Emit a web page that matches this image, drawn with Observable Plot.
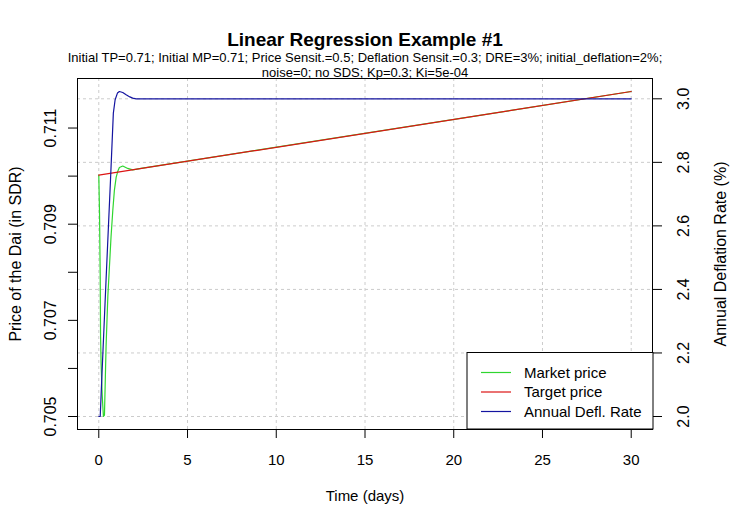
<!DOCTYPE html>
<html><head><meta charset="utf-8">
<script src="https://cdn.jsdelivr.net/npm/d3@7"></script>
<script src="https://cdn.jsdelivr.net/npm/@observablehq/plot@0.6"></script>
<style>body{margin:0;background:#fff} #chart svg{font-family:"Liberation Sans",Arial,sans-serif}</style>
</head><body><div id="chart"></div><script>
const title = "Linear Regression Example #1";
const subtitleLines = [
  "Initial TP=0.71; Initial MP=0.71; Price Sensit.=0.5; Deflation Sensit.=0.3; DRE=3%; initial_deflation=2%;",
  "noise=0; no SDS; Kp=0.3; Ki=5e-04"
];
const xLabel = "Time (days)";
const yLabel = "Price of the Dai (in SDR)";
const y2Label = "Annual Deflation Rate (%)";
const seriesNames = ["Market price", "Target price", "Annual Defl. Rate"];
const seriesColors = ["#2fd62f", "#dd1515", "#1414a0"];

const xTicks = [0, 5, 10, 15, 20, 25, 30];
const priceTicks = [0.705, 0.706, 0.707, 0.708, 0.709, 0.710, 0.711];
const priceTickLabels = [0.705, 0.707, 0.709, 0.711];
const rateTicks = [2.0, 2.2, 2.4, 2.6, 2.8, 3.0];

// Target price (red)
const tpDays = [0, 30];
const tpValues = [0.71002, 0.71176];

// Market price (green)
const mpDays = [0, 0.04, 0.08, 0.10, 0.13, 0.19, 0.26, 0.32, 0.41, 0.51, 0.60, 0.69, 0.79, 0.88, 0.98, 1.07, 1.16, 1.35, 1.63, 1.91, 2.38, 30];
const mpValues = [0.71002, 0.70926, 0.70790, 0.70667, 0.70610, 0.70546, 0.70500, 0.70503, 0.70646, 0.70750, 0.70812, 0.70874, 0.70929, 0.70971, 0.70998, 0.71010, 0.71018, 0.71021, 0.71016, 0.71013, 0.71016, 0.71176];

// Annual deflation rate (blue, right axis)
const rateDays = [0, 0.08, 0.19, 0.41, 0.66, 0.82, 0.92, 1.05, 1.16, 1.35, 1.54, 1.75, 1.91, 2.1, 30];
const rateValues = [2.0, 2.0, 2.148, 2.431, 2.745, 2.955, 2.997, 3.018, 3.023, 3.020, 3.013, 3.006, 3.002, 3.0, 3.0];

// R-style 4% axis extension
const ext = ([a, b]) => [a - (b - a) * 0.04, b + (b - a) * 0.04];
const xDomain = ext([0, 30]);
const priceDomain = ext(d3.extent([...mpValues, ...tpValues]));
const rateDomain = ext(d3.extent(rateValues));
const rateToPrice = d3.scaleLinear().domain(rateDomain).range(priceDomain);

const tp = tpDays.map((d, i) => ({day: d, v: tpValues[i]}));
const mp = mpDays.map((d, i) => ({day: d, v: mpValues[i]}));
const rate = rateDays.map((d, i) => ({day: d, v: rateToPrice(rateValues[i])}));

const grid = {stroke: "#cccccc", strokeOpacity: 1, strokeDasharray: "3,3"};
const fs = 15, fsv = 16;

const plot = Plot.plot({
  width: 750, height: 527,
  marginLeft: 77, marginRight: 98, marginTop: 78, marginBottom: 98,
  style: {fontFamily: "Liberation Sans, Arial, sans-serif", fontSize: "15px", background: "#fff", color: "#000"},
  x: {domain: xDomain},
  y: {domain: priceDomain},
  marks: [
    Plot.gridX(xTicks, grid),
    Plot.gridY(rateTicks.map(rateToPrice), grid),
    Plot.line(mp, {x: "day", y: "v", stroke: seriesColors[0], strokeWidth: 1.2}),
    Plot.line(tp, {x: "day", y: "v", stroke: seriesColors[1], strokeWidth: 1.2}),
    Plot.line(rate, {x: "day", y: "v", stroke: seriesColors[2], strokeWidth: 1.2}),
    Plot.frame({stroke: "#000", strokeWidth: 1}),
    Plot.axisX(xTicks, {tickSize: 9, tickFormat: () => "", label: null}),
    Plot.axisY(priceTicks, {anchor: "left", tickSize: 9, tickFormat: () => "", label: null}),
    Plot.axisY(rateTicks.map(rateToPrice), {anchor: "right", tickSize: 9, tickFormat: () => "", label: null}),
    Plot.text(xTicks, {x: d => d, frameAnchor: "bottom", dy: 31, text: d => String(d), fontSize: fs, lineAnchor: "middle", textAnchor: "middle"}),
    Plot.text(priceTickLabels, {y: d => d, frameAnchor: "left", dx: -27, rotate: -90, text: d => d3.format(".3f")(d), fontSize: fsv, lineAnchor: "middle", textAnchor: "middle"}),
    Plot.text(rateTicks, {y: d => rateToPrice(d), frameAnchor: "right", dx: 31, rotate: -90, text: d => d.toFixed(1), fontSize: fsv, lineAnchor: "middle", textAnchor: "middle"}),
    Plot.text([xLabel], {frameAnchor: "bottom", dy: 67, fontSize: fs, lineAnchor: "middle", textAnchor: "middle"}),
    Plot.text([yLabel], {frameAnchor: "left", dx: -62, rotate: -90, fontSize: fsv, lineAnchor: "middle", textAnchor: "middle"}),
    Plot.text([y2Label], {frameAnchor: "right", dx: 68, rotate: -90, fontSize: fsv, lineAnchor: "middle", textAnchor: "middle"}),
    Plot.text([title], {frameAnchor: "top", dy: -39, fontSize: 19, fontWeight: "bold", lineAnchor: "middle", textAnchor: "middle"}),
    Plot.text([subtitleLines[0]], {frameAnchor: "top", dy: -21, fontSize: 13, lineAnchor: "middle", textAnchor: "middle"}),
    Plot.text([subtitleLines[1]], {frameAnchor: "top", dy: -6, fontSize: 13, lineAnchor: "middle", textAnchor: "middle"})
  ]
});
document.getElementById("chart").appendChild(plot);

// Legend (bottom-right, like R's legend("bottomright"))
const svg = d3.select(plot);
const lg = svg.append("g");
const bx = 467, by = 352.5, bw = 186, bh = 76.5;
lg.append("rect").attr("x", bx).attr("y", by).attr("width", bw).attr("height", bh)
  .attr("fill", "#fff").attr("stroke", "#000");
seriesNames.forEach((name, i) => {
  const yy = by + 20 + i * 19.5;
  lg.append("line").attr("x1", bx + 14).attr("x2", bx + 44).attr("y1", yy).attr("y2", yy)
    .attr("stroke", seriesColors[i]).attr("stroke-width", 1.2);
  lg.append("text").attr("x", bx + 57).attr("y", yy).attr("dy", "0.35em")
    .attr("text-anchor", "start").attr("font-size", fs).attr("fill", "#000").text(name);
});
</script></body></html>
